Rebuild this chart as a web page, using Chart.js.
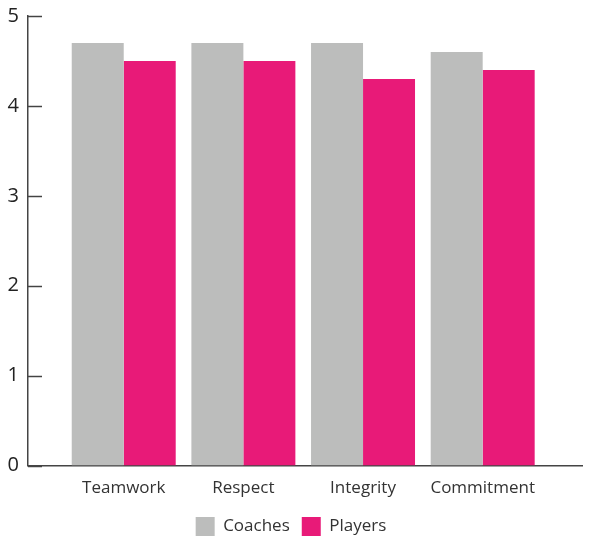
<!DOCTYPE html>
<html lang="en">
<head>
    <meta charset="UTF-8">
    <title>Values: coaches vs players</title>
    <script src="https://cdn.jsdelivr.net/npm/chart.js"></script>
    <style>
        html, body { margin: 0; padding: 0; background: #fff; }
        #wrap { width: 596px; height: 536px; }
    </style>
</head>
<body>
    <div id="wrap"><canvas id="chart"></canvas></div>
    <script>
        // data
        const categories = ['Teamwork', 'Respect', 'Integrity', 'Commitment'];
        const coaches = [4.7, 4.7, 4.7, 4.6];
        const players = [4.5, 4.5, 4.3, 4.4];
        const yTicks = [0, 1, 2, 3, 4, 5];

        const axisColor = '#444';

        // short tick marks drawn inside the plot, on the y axis
        const innerTicks = {
            id: 'innerTicks',
            afterDraw(chart) {
                const ctx = chart.ctx;
                const y = chart.scales.y;
                const left = chart.chartArea.left;
                ctx.save();
                ctx.strokeStyle = axisColor;
                ctx.lineWidth = 1.5;
                yTicks.forEach(v => {
                    const py = Math.round(y.getPixelForValue(v)) + 0.5;
                    ctx.beginPath();
                    ctx.moveTo(left, py);
                    ctx.lineTo(left + 14, py);
                    ctx.stroke();
                });
                ctx.restore();
            }
        };

        new Chart(document.getElementById('chart'), {
            type: 'bar',
            data: {
                datasets: [
                    {
                        label: 'Coaches',
                        data: coaches.map((v, i) => ({ x: i, y: v })),
                        backgroundColor: '#bcbdbc'
                    },
                    {
                        label: 'Players',
                        data: players.map((v, i) => ({ x: i, y: v })),
                        backgroundColor: '#e81a78'
                    }
                ]
            },
            options: {
                responsive: true,
                maintainAspectRatio: false,
                animation: false,
                layout: { padding: { top: 16, right: 14, left: 0, bottom: -10 } },
                datasets: {
                    bar: { categoryPercentage: 0.869, barPercentage: 1.0 }
                },
                scales: {
                    x: {
                        type: 'linear',
                        offset: false,
                        min: -0.8,
                        max: 3.83,
                        afterFit: scale => { scale.height += 3; },
                        grid: { display: false, offset: false },
                        border: { display: true, color: axisColor, width: 1.5 },
                        afterBuildTicks: scale => {
                            scale.ticks = categories.map((c, i) => ({ value: i }));
                        },
                        ticks: {
                            callback: v => categories[v],
                            font: { family: 'Open Sans', size: 17 },
                            color: '#333',
                            padding: 4,
                            maxRotation: 0
                        }
                    },
                    y: {
                        min: 0,
                        max: 5,
                        afterFit: scale => {
                            scale.width = 28;
                            scale.paddingTop = 0;
                            scale.paddingBottom = 0;
                        },
                        afterBuildTicks: scale => {
                            scale.ticks = yTicks.map(v => ({ value: v }));
                        },
                        grid: { display: false, drawTicks: false },
                        border: { display: true, color: axisColor, width: 1.5 },
                        ticks: {
                            font: { family: 'Open Sans', size: 20 },
                            color: '#222',
                            padding: 9
                        }
                    }
                },
                plugins: {
                    legend: {
                        position: 'bottom',
                        labels: {
                            boxWidth: 19,
                            boxHeight: 19,
                            padding: 12,
                            color: '#333',
                            font: { family: 'Open Sans', size: 17 }
                        }
                    },
                    tooltip: { enabled: false }
                }
            },
            plugins: [innerTicks]
        });
    </script>
</body>
</html>
